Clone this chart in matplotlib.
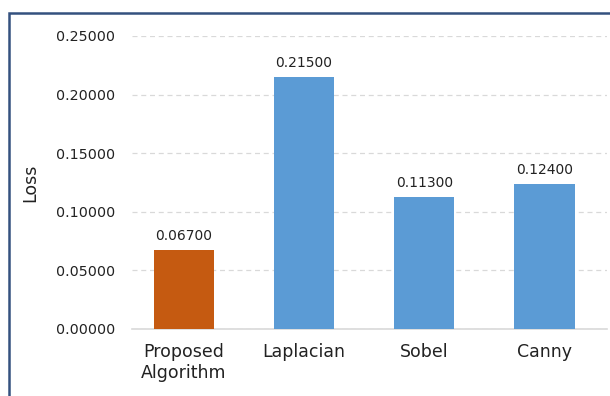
import matplotlib.pyplot as plt
from matplotlib.patches import Rectangle

# Loss per edge detection method
methods = ["Proposed\nAlgorithm", "Laplacian", "Sobel", "Canny"]
loss = [0.067, 0.215, 0.113, 0.124]
colors = ["#C55A11", "#5B9BD5", "#5B9BD5", "#5B9BD5"]

plt.rcParams['font.family'] = ['DejaVu Sans']

fig = plt.figure(figsize=(6.10, 3.96), dpi=100)
ax = fig.add_axes([132 / 610, 1 - 329 / 396, 475 / 610, 293 / 396])

x = range(len(methods))
bars = ax.bar(x, loss, width=0.5, color=colors, zorder=3)
for b, v in zip(bars, loss):
    ax.text(b.get_x() + b.get_width() / 2, v + 0.006, f"{v:.5f}",
            ha="center", va="bottom", fontsize=10, color="#222222")

ax.set_ylim(0, 0.25)
ax.set_xlim(-0.43, 3.52)
ax.set_yticks([0, 0.05, 0.10, 0.15, 0.20, 0.25])
ax.set_yticklabels([f"{t:.5f}" for t in ax.get_yticks()])
ax.set_xticks(list(x))
ax.set_xticklabels(methods, fontsize=12.5, linespacing=1.25)
ax.tick_params(axis="both", length=0, colors="#222222")
ax.tick_params(axis="y", labelsize=10.3, pad=12)
ax.tick_params(axis="x", pad=10)
ax.yaxis.grid(True, linestyle=(0, (4, 3)), color="#D9D9D9", linewidth=0.9)
ax.set_axisbelow(True)
for s in ["top", "right", "left"]:
    ax.spines[s].set_visible(False)
ax.spines["bottom"].set_color("#D9D9D9")
ax.spines["bottom"].set_linewidth(1.2)

ax.set_ylabel("Loss", fontsize=12.5, color="#222222")
ax.yaxis.set_label_coords(-93 / 475, 0.5)

# outer frame, only left and top edges fall inside the canvas
fig.patches.append(Rectangle((9 / 610, -0.1), 1.2, 1 - 13 / 396 + 0.1,
                             transform=fig.transFigure, fill=False,
                             edgecolor="#34517F", linewidth=1.8))

fig.savefig("out.png", dpi=100)
